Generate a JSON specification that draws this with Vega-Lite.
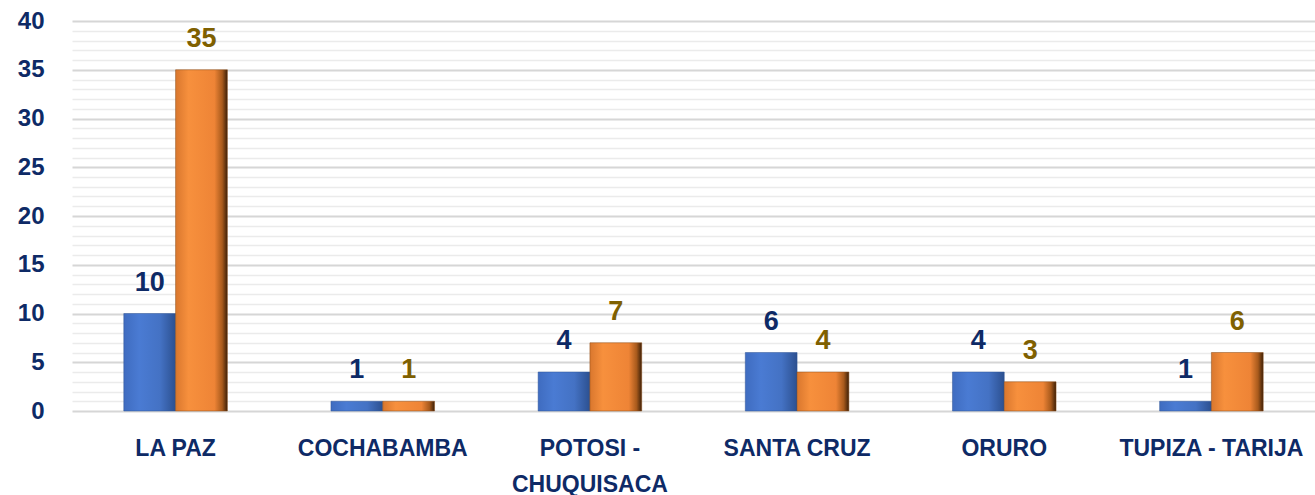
{
  "$schema": "https://vega.github.io/schema/vega-lite/v6.json",
  "autosize": "none",
  "width": 1243,
  "height": 390,
  "padding": {"left": 72, "top": 21, "right": 0, "bottom": 84},
  "background": "white",
  "config": {"view": {"stroke": null}, "font": "Liberation Sans"},
  "data": {"values": [
    {"region": "LA PAZ", "serie": "A", "valor": 10},
    {"region": "LA PAZ", "serie": "B", "valor": 35},
    {"region": "COCHABAMBA", "serie": "A", "valor": 1},
    {"region": "COCHABAMBA", "serie": "B", "valor": 1},
    {"region": "POTOSI - CHUQUISACA", "serie": "A", "valor": 4},
    {"region": "POTOSI - CHUQUISACA", "serie": "B", "valor": 7},
    {"region": "SANTA CRUZ", "serie": "A", "valor": 6},
    {"region": "SANTA CRUZ", "serie": "B", "valor": 4},
    {"region": "ORURO", "serie": "A", "valor": 4},
    {"region": "ORURO", "serie": "B", "valor": 3},
    {"region": "TUPIZA - TARIJA", "serie": "A", "valor": 1},
    {"region": "TUPIZA - TARIJA", "serie": "B", "valor": 6}
  ]},
  "encoding": {
    "x": {"field": "region", "type": "nominal", "sort": null,
      "scale": {"paddingInner": 0.5, "paddingOuter": 0.25},
      "axis": {"title": null, "labelAngle": 0, "domain": false, "ticks": false,
        "labelPadding": 37, "labelFontSize": 23, "labelFontWeight": "bold", "labelColor": "#0E2A66",
        "labelLineHeight": 36, "labelBaseline": "middle", "labelLimit": 0, "labelOverlap": false,
        "labelExpr": "datum.value == 'POTOSI - CHUQUISACA' ? ['POTOSI -', 'CHUQUISACA'] : datum.value"}},
    "xOffset": {"field": "serie", "type": "nominal", "scale": {"domain": ["A", "B"], "paddingInner": 0, "paddingOuter": 0}},
    "y": {"field": "valor", "type": "quantitative",
      "scale": {"domain": [0, 40], "nice": false},
      "axis": {"title": null, "domain": false, "ticks": false, "labelPadding": 28,
        "values": [0,1,2,3,4,5,6,7,8,9,10,11,12,13,14,15,16,17,18,19,20,21,22,23,24,25,26,27,28,29,30,31,32,33,34,35,36,37,38,39,40],
        "labelExpr": "datum.value % 5 === 0 ? datum.label : ''",
        "labelFontSize": 24, "labelFontWeight": "bold", "labelColor": "#0E2A66",
        "gridColor": {"condition": {"test": "datum.value % 5 === 0", "value": "#d6d6d6"}, "value": "#ebebeb"},
        "gridWidth": {"condition": {"test": "datum.value % 5 === 0", "value": 2}, "value": 1.5}}}
  },
  "layer": [
    {
      "transform": [{"filter": "datum.serie == 'A'"}],
      "mark": {"type": "bar", "stroke": "#2f5597", "strokeWidth": 0.5,
        "fill": {"gradient": "linear", "x1": 0, "y1": 0, "x2": 1, "y2": 0,
          "stops": [{"offset": 0, "color": "#3f6cc0"}, {"offset": 0.3, "color": "#4a7bd3"}, {"offset": 0.7, "color": "#4472c4"}, {"offset": 1, "color": "#2c5090"}]}}
    },
    {
      "transform": [{"filter": "datum.serie == 'B'"}],
      "mark": {"type": "bar", "stroke": "#8a4a14", "strokeWidth": 0.5,
        "fill": {"gradient": "linear", "x1": 0, "y1": 0, "x2": 1, "y2": 0,
          "stops": [{"offset": 0, "color": "#d9772e"}, {"offset": 0.25, "color": "#f7903d"}, {"offset": 0.75, "color": "#ee8436"}, {"offset": 0.9, "color": "#a85a1c"}, {"offset": 1, "color": "#3d2008"}]}}
    },
    {
      "mark": {"type": "text", "dy": -31, "fontSize": 27, "fontWeight": "bold", "baseline": "middle"},
      "encoding": {
        "text": {"field": "valor", "type": "quantitative"},
        "color": {"field": "serie", "type": "nominal", "scale": {"domain": ["A", "B"], "range": ["#0E2A66", "#7F6000"]}, "legend": null}
      }
    }
  ]
}
